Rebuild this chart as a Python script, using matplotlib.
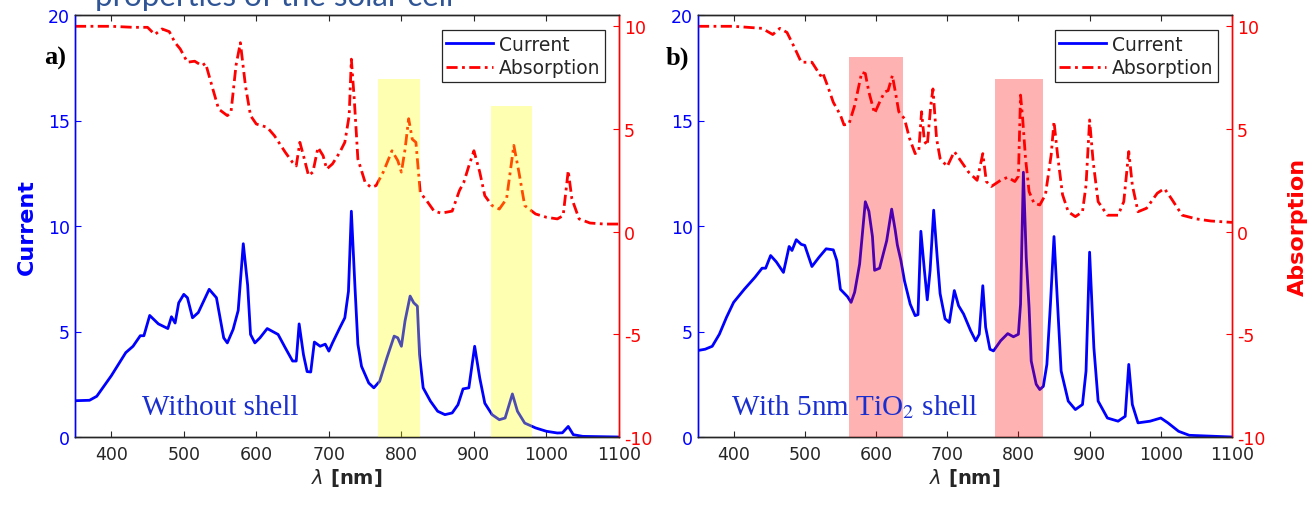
import matplotlib
matplotlib.use("Agg")
import matplotlib.pyplot as plt
from matplotlib.lines import Line2D

plt.rcParams['font.family'] = ['DejaVu Sans']
plt.rcParams['axes.unicode_minus'] = False

# ---- panel a: bare cell ----
wl_cur_a = [350, 370, 380, 400, 420, 430, 440, 445, 453, 465, 478, 483, 488, 493, 500, 505,
            512, 520, 535, 545, 555, 560, 568, 575, 582, 588, 592, 598, 605, 615, 630, 640,
            650, 655, 659, 665, 670, 675, 680, 688, 695, 700, 705, 715, 722, 727, 731, 736,
            740, 745, 755, 762, 770, 780, 790, 795, 800, 805, 812, 817, 822, 825, 830, 840,
            850, 860, 870, 878, 885, 893, 901, 908, 915, 925, 935, 943, 953, 960, 970, 985,
            1000, 1015, 1022, 1030, 1037, 1050, 1100]
cur_a = [1.72, 1.74, 1.93, 2.9, 4.0, 4.3, 4.8, 4.8, 5.76, 5.36, 5.14, 5.7, 5.4, 6.36, 6.76, 6.6,
         5.65, 5.9, 7.0, 6.6, 4.7, 4.46, 5.1, 6.0, 9.16, 7.2, 4.86, 4.46, 4.7, 5.14, 4.86, 4.22,
         3.6, 3.6, 5.36, 3.9, 3.1, 3.08, 4.5, 4.3, 4.4, 4.07, 4.46, 5.17, 5.65, 6.9, 10.7, 7.1,
         4.4, 3.35, 2.56, 2.33, 2.64, 3.75, 4.78, 4.7, 4.3, 5.5, 6.68, 6.36, 6.2, 3.9, 2.33, 1.7,
         1.22, 1.06, 1.14, 1.53, 2.28, 2.33, 4.3, 2.8, 1.6, 1.06, 0.82, 0.9, 2.04, 1.22, 0.66, 0.43,
         0.27, 0.19, 0.2, 0.5, 0.11, 0.03, 0.0]

wl_abs_a = [350, 400, 430, 440, 450, 460, 470, 480, 488, 495, 505, 515, 525, 530, 540, 548,
            560, 565, 572, 578, 585, 592, 600, 615, 625, 640, 650, 655, 660, 665, 672, 678,
            685, 692, 697, 705, 715, 722, 728, 731, 735, 740, 750, 758, 765, 775, 787, 795,
            800, 805, 810, 815, 820, 826, 835, 845, 855, 870, 880, 886, 893, 900, 908, 915,
            925, 935, 945, 955, 962, 970, 985, 1000, 1015, 1023, 1030, 1035, 1045, 1060, 1080, 1100]
abs_a = [10.0, 10.0, 9.95, 9.95, 9.95, 9.6, 9.87, 9.74, 9.2, 8.9, 8.25, 8.3, 8.08, 8.2, 6.95, 5.97,
         5.65, 5.8, 8.1, 9.2, 7.1, 5.65, 5.24, 5.08, 4.67, 3.86, 3.37, 3.2, 4.35, 3.7, 2.73, 2.9,
         4.1, 3.7, 3.05, 3.3, 3.86, 4.35, 5.65, 8.4, 6.46, 3.54, 2.4, 2.16, 2.24, 2.9, 3.94, 3.46,
         2.9, 4.0, 5.5, 4.5, 4.35, 1.9, 1.5, 1.0, 0.9, 1.0, 2.0, 2.4, 3.2, 3.94, 2.9, 1.75,
         1.27, 1.1, 1.6, 4.2, 2.9, 1.27, 0.86, 0.7, 0.62, 0.78, 2.97, 1.6, 0.62, 0.42, 0.37, 0.37]

# highlighted bands (start nm, end nm, top in current units)
bands_a = [(768, 825, 16.95), (924, 980, 15.7)]

# ---- panel b: 5 nm TiO2 shell ----
wl_cur_b = [350, 360, 370, 380, 390, 400, 415, 430, 440, 445, 452, 460, 470, 478, 482, 488,
            495, 500, 510, 520, 530, 540, 545, 550, 560, 565, 570, 577, 585, 590, 595, 598,
            605, 615, 622, 627, 630, 635, 640, 648, 655, 659, 663, 668, 672, 676, 681, 686,
            690, 697, 703, 710, 716, 723, 733, 740, 745, 750, 754, 760, 765, 775, 785, 793,
            800, 803, 807, 811, 815, 818, 825, 830, 835, 840, 845, 850, 855, 860, 870, 880,
            890, 895, 900, 906, 912, 925, 940, 950, 955, 960, 968, 985, 1000, 1010, 1025, 1040, 1100]
cur_b = [4.1, 4.16, 4.3, 4.87, 5.67, 6.38, 7.0, 7.57, 8.0, 8.0, 8.6, 8.3, 7.8, 9.03, 8.84, 9.35,
         9.13, 9.08, 8.08, 8.52, 8.92, 8.87, 8.36, 7.0, 6.65, 6.38, 6.86, 8.2, 11.15, 10.7, 9.5, 7.9,
         8.0, 9.3, 10.8, 9.8, 9.1, 8.36, 7.4, 6.3, 5.75, 5.8, 9.75, 7.9, 6.5, 7.9, 10.75, 8.5,
         6.8, 5.6, 5.43, 6.94, 6.22, 5.83, 5.03, 4.56, 4.87, 7.17, 5.2, 4.16, 4.08, 4.56, 4.9, 4.75,
         4.87, 6.3, 12.55, 8.5, 6.14, 3.6, 2.5, 2.25, 2.4, 3.44, 6.3, 9.5, 6.3, 3.13, 1.7, 1.3,
         1.54, 3.13, 8.76, 4.24, 1.7, 0.9, 0.75, 0.98, 3.44, 1.54, 0.67, 0.75, 0.9, 0.67, 0.27, 0.08, 0.0]

wl_abs_b = [350, 400, 420, 440, 455, 465, 475, 485, 495, 510, 522, 525, 532, 540, 550, 555,
            562, 570, 580, 585, 590, 598, 605, 612, 617, 623, 628, 632, 640, 647, 655, 660,
            664, 668, 672, 677, 680, 685, 690, 700, 710, 720, 730, 742, 750, 755, 762, 775,
            785, 795, 800, 803, 806, 810, 815, 822, 830, 838, 846, 850, 855, 862, 870, 880,
            890, 895, 900, 905, 912, 925, 940, 948, 955, 960, 968, 980, 995, 1005, 1015, 1030,
            1050, 1070, 1100]
abs_b = [10.0, 10.0, 9.95, 9.9, 9.6, 9.9, 9.7, 9.0, 8.25, 8.25, 7.6, 7.75, 7.1, 6.3, 5.68, 5.2,
         5.24, 6.14, 7.76, 7.7, 6.8, 5.76, 6.3, 6.8, 6.87, 7.6, 6.65, 5.84, 5.5, 4.55, 3.8, 3.9,
         5.84, 4.4, 4.2, 6.17, 6.95, 4.55, 3.57, 3.17, 3.9, 3.4, 2.9, 2.5, 3.8, 2.44, 2.2, 2.5,
         2.65, 2.44, 2.7, 6.65, 5.5, 3.57, 1.95, 1.38, 1.3, 1.8, 3.73, 5.36, 3.73, 1.8, 0.97, 0.73,
         0.97, 2.27, 5.44, 3.4, 1.46, 0.8, 0.8, 1.46, 3.9, 2.27, 0.97, 1.14, 1.87, 2.1, 1.6, 0.8,
         0.62, 0.52, 0.45]

bands_b = [(562, 638, 18.03), (767, 835, 16.95)]

x_ticks = [400, 500, 600, 700, 800, 900, 1000, 1100]
cur_ticks = [0, 5, 10, 15, 20]
abs_ticks = [-10, -5, 0, 5, 10]

W, H = 1316, 506
BLUE = '#0000ff'
RED = '#ff0000'
GRAY = '#262626'
DASHDOT = (0, (4, 1.6, 1, 1.6))

fig = plt.figure(figsize=(W / 100, H / 100), dpi=100)


def make_panel(left_px, right_px, wl_c, cur, wl_ab, ab, bands, band_color,
               tag, tag_x_px, note, note_x, left_label, right_label):
    top_px, bottom_px = 16, 438
    ax = fig.add_axes([left_px / W, 1 - bottom_px / H,
                       (right_px - left_px) / W, (bottom_px - top_px) / H])
    ax2 = ax.twinx()

    ax.plot(wl_c, cur, color=BLUE, lw=2.0, solid_joinstyle='round')
    ax2.plot(wl_ab, ab, color=RED, lw=2.0, linestyle=DASHDOT)

    # translucent bands sit over both curves
    for x0, x1, top in bands:
        ax2.axvspan(x0, x1, ymin=0, ymax=top / 20, color=band_color, alpha=0.3,
                    lw=0, zorder=5)

    ax.set_xlim(350, 1100)
    ax.set_ylim(0, 20)
    ax2.set_ylim(-10, 10.55)
    ax.set_xticks(x_ticks)
    ax.set_yticks(cur_ticks)
    ax2.set_yticks(abs_ticks)

    ax.tick_params(axis='x', direction='in', length=4, width=0.8, top=True,
                   colors=GRAY, labelsize=12.5, pad=6)
    ax.tick_params(axis='y', direction='in', length=4, width=0.8, colors=BLUE,
                   labelsize=12.5)
    ax2.tick_params(axis='y', direction='in', length=4, width=0.8, colors=RED,
                    labelsize=12.5)

    for a in (ax, ax2):
        a.spines['top'].set_color(GRAY)
        a.spines['bottom'].set_color(GRAY)
        a.spines['left'].set_color(BLUE)
        a.spines['right'].set_color(RED)
        for s in a.spines.values():
            s.set_linewidth(1.0)

    ax.set_xlabel(r'$\lambda$ [nm]', fontsize=14, fontweight='bold', color=GRAY,
                  labelpad=2)
    if left_label:
        ax.set_ylabel('Current', fontsize=16, fontweight='bold', color=BLUE,
                      labelpad=8)
    if right_label:
        ax2.set_ylabel('Absorption', fontsize=16, fontweight='bold', color=RED,
                       labelpad=16)

    handles = [Line2D([], [], color=BLUE, lw=2.0),
               Line2D([], [], color=RED, lw=2.0, linestyle=DASHDOT)]
    leg = ax2.legend(handles, ['Current', 'Absorption'], loc='upper right',
                     bbox_to_anchor=(1 - 14 / (right_px - left_px), 1 - 15 / 422),
                     borderaxespad=0, fontsize=13.5, frameon=True, fancybox=False,
                     framealpha=1, edgecolor=GRAY, handlelength=2.5,
                     handletextpad=0.3, labelspacing=0.25, borderpad=0.25,
                     labelcolor=GRAY)
    leg.get_frame().set_linewidth(0.9)
    leg.set_zorder(10)

    fig.text(tag_x_px / W, 1 - 58 / H, tag, family='Liberation Serif',
             fontweight='bold', fontsize=19, va='center', ha='left', color='black')

    ax2.text(note_x, -10 + 1.1 * 20.55 / 20, note, family='Liberation Serif',
             fontsize=21, color='#1a2fd0', va='baseline', ha='left',
             math_fontfamily='stix', zorder=6)
    return ax, ax2


make_panel(75, 619, wl_cur_a, cur_a, wl_abs_a, abs_a, bands_a, '#ffff00',
           'a)', 44, 'Without shell', 442, True, False)
make_panel(698, 1232, wl_cur_b, cur_b, wl_abs_b, abs_b, bands_b, '#ff0000',
           'b)', 666, r'With 5nm TiO$_2$ shell', 397, False, True)

# slide heading above the plots; the figure edge clips its upper half
fig.text(95 / W, 1 - 6 / H, 'properties of the solar cell', family='Lato',
         fontsize=22.5, color='#2f5597', va='baseline', ha='left')

fig.savefig('out.png', dpi=100)
